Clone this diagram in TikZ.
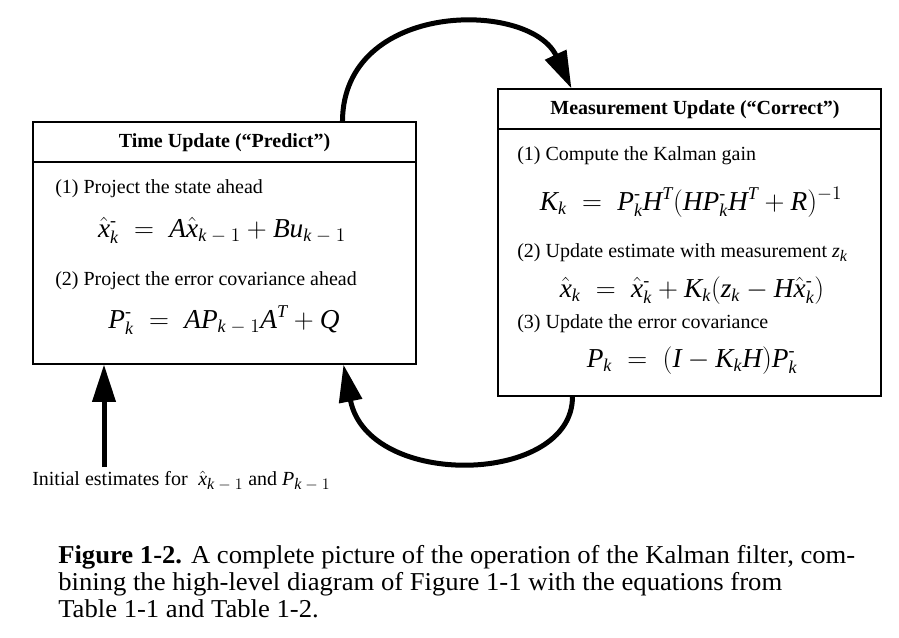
\documentclass[tikz,border=0pt]{standalone}
\usepackage{amsmath}
\usepackage{fontspec}
\setmainfont[NFSSFamily=ltimes]{Liberation Serif}
\DeclareSymbolFont{letters}{TU}{ltimes}{m}{it}
\DeclareSymbolFont{operators}{TU}{ltimes}{m}{n}
\DeclareSymbolFont{cmacc}{OT1}{cmr}{m}{n}
\DeclareMathAccent{\xhat}{\mathalpha}{cmacc}{"5E}
\DeclareMathSizes{15}{15}{12}{9}
\DeclareMathSizes{20.5}{20.5}{13.5}{10}
\usetikzlibrary{arrows.meta,calc,fit}
\newsavebox\capbox
\newcommand\capfont{\fontsize{19.3}{20}\selectfont}
\newcommand\mm{\text{-}}
\newcommand\kmo{k\mskip4.5mu-\mskip4.5mu1}
\begin{document}
\sbox\capbox{\capfont\textbf{Figure 1-2.} A complete picture of the operation of the Kalman filter, com-}%
\edef\capw{\the\wd\capbox}%
\pgfmathsetmacro\capsc{597.75/\capw}%
\begin{tikzpicture}[x=0.75pt,y=-0.75pt,
  box/.style={draw, line width=0.8pt, inner sep=0pt},
  body/.style={font=\fontsize{15}{18}\selectfont, inner sep=0pt, anchor=base west},
  ttl/.style={font=\fontsize{15}{18}\selectfont\bfseries, inner sep=0pt, anchor=base},
  eqn/.style={font=\fontsize{20.5}{24}\selectfont, inner sep=0pt, anchor=base},
  captext/.style={inner sep=0pt, anchor=base west},
  flow/.style={line width=3.75pt, -{Triangle[length=28pt,width=17pt]}}]
\useasboundingbox (0,0) rectangle (899,638);
% boxes
\coordinate (tuNW) at (33,122);
\coordinate (tuSE) at (416,364);
\coordinate (muNW) at (498,89);
\coordinate (muSE) at (881,396);
\node[box, fit=(tuNW)(tuSE)] (tu) {};
\node[box, fit=(muNW)(muSE)] (mu) {};
\draw[line width=0.8pt] (tu.west |- 0,162) -- (tu.east |- 0,162);
\draw[line width=0.8pt] (mu.west |- 0,129) -- (mu.east |- 0,129);
% time update
\node[ttl] (tut) at (224.5,148) {Time Update (“Predict”)};
\node[body] (tu1) at (55,193) {(1) Project the state ahead};
\node[eqn] (tue1) at (222,237) {$\xhat{x}^{\mm}_{k}\;=\;A\xhat{x}_{\kmo}+Bu_{\kmo}$};
\node[body] (tu2) at (55,285) {(2) Project the error covariance ahead};
\node[eqn] (tue2) at (224,328) {$P^{\mm}_{k}\;=\;AP_{\kmo}A^{T}+Q$};
% measurement update
\node[ttl] (mut) at (695,115) {Measurement Update (“Correct”)};
\node[body] (mu1) at (517,161) {(1) Compute the Kalman gain};
\node[eqn] (mue1) at (691,210) {$K_{k}\;=\;P^{\mm}_{k}H^{T}(HP^{\mm}_{k}H^{T}+R)^{-1}$};
\node[body] (mu2) at (517,257) {(2) Update estimate with measurement $z_{k}$};
\node[eqn] (mue2) at (692,297) {$\xhat{x}_{k}\;=\;\xhat{x}^{\mm}_{k}+K_{k}(z_{k}-H\xhat{x}^{\mm}_{k})$};
\node[body] (mu3) at (517,328) {(3) Update the error covariance};
\node[eqn] (mue3) at (692,367) {$P_{k}\;=\;(I-K_{k}H)P^{\mm}_{k}$};
% initial estimates
\node[body] (init) at (32,485) {Initial estimates for\; $\xhat{x}_{\kmo}$ and $P_{\kmo}$};
\coordinate (initA) at (104,467);
% connectors
\coordinate (tuA) at ($(tu.north west)+(310,0)$);
\coordinate (muA) at ($(mu.north west)+(74,0)$);
\coordinate (muB) at ($(mu.south west)+(75,0)$);
\coordinate (tuB) at ($(tu.south west)+(311,0)$);
\draw[flow] (tuA) .. controls (343,0) and (530,0) .. (muA);
\draw[flow] (muB) .. controls (573,485) and (368,490) .. (tuB);
\draw[flow] (initA) -- (initA |- tu.south);
% caption
\node[captext] (cap1) at (58,563) {\scalebox{\capsc}[1]{\usebox\capbox}};
\node[captext] (cap2) at (58,590) {\scalebox{\capsc}[1]{\capfont bining the high-level diagram of Figure 1-1 with the equations from}};
\node[captext] (cap3) at (58,617) {\scalebox{\capsc}[1]{\capfont Table 1-1 and Table 1-2.}};
\end{tikzpicture}
\end{document}
